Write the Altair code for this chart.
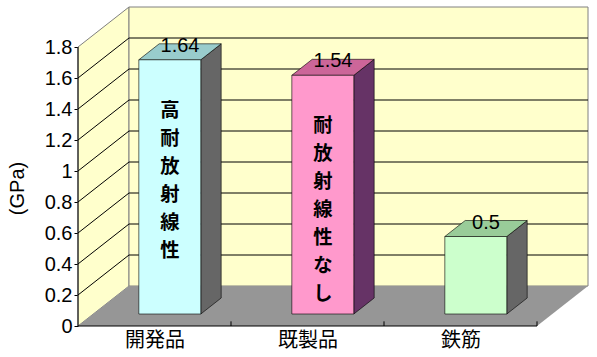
import json
import altair as alt
import pandas as pd

# ---------------- data ----------------
categories = ["開発品", "既製品", "鉄筋"]
values = [1.64, 1.54, 0.5]
bar_texts = ["高耐放射線性", "耐放射線性なし", ""]
y_ticks = [0, 0.2, 0.4, 0.6, 0.8, 1, 1.2, 1.4, 1.6, 1.8]

# ---------------- style ----------------
front_colors = ["#CCFFFF", "#FF99CC", "#CCFFCC"]
top_colors = ["#99CCCC", "#CC6699", "#99CC99"]
side_colors = ["#666666", "#663366", "#666666"]
WALL = "#FFFFCC"
FLOOR = "#969696"
BORDER = "#808080"

W, H = 510, 319
YMAX = 1.8
DX = 1 / 3          # depth of the 3-D box in x units
DY = 40 / 155       # depth of the 3-D box in y units
BAR_W = 0.405
F0, F1 = 0.3, 0.7   # bar depth, as fractions of the box depth
LINE_H = 28         # line spacing of the vertical in-bar text (px)
TEXT_DY = 51        # first in-bar character centre below the bar top (px)
N = len(categories)
PX_PER_Y = H / (YMAX + DY)

xs = alt.Scale(domain=[0, N + DX], nice=False, zero=False)
ys = alt.Scale(domain=[0, YMAX + DY], nice=False, zero=False)

label_expr = f"{json.dumps(categories, ensure_ascii=False)}[round(datum.value - 0.5)]"

X_AXIS = alt.Axis(values=[i + 0.5 for i in range(N)], labelExpr=label_expr,
                  ticks=False, domain=False, grid=False,
                  labelFont="Noto Sans CJK JP", labelFontSize=20,
                  labelColor="black", labelPadding=4)
Y_AXIS = alt.Axis(values=y_ticks, labelExpr="'' + datum.value",
                  domain=False, grid=False, tickSize=4, tickColor="black",
                  labelFont="Liberation Sans", labelFontSize=20,
                  labelColor="black", labelPadding=2,
                  titleFont="Liberation Sans",
                  titleFontSize=20, titleFontWeight="normal",
                  titleColor="black", titleAngle=270,
                  titleX=-61, titleY=181, titleAlign="center",
                  titleBaseline="middle")


def X(field):
    return alt.X(field, scale=xs, axis=X_AXIS, title=None)


def Y(field):
    return alt.Y(field, scale=ys, axis=Y_AXIS, title="(GPa)", stack=None)


# ---------------- frame ----------------
left_wall = pd.DataFrame({"x": [0, DX], "y": [YMAX, YMAX + DY], "y2": [0, DY]})
back_wall = pd.DataFrame({"x": [DX], "x2": [N + DX], "y": [DY], "y2": [YMAX + DY]})
floor = pd.DataFrame({"y": [0, DY], "x": [0, DX], "x2": [N, N + DX]})
inner = [v for v in y_ticks if 0 < v < YMAX]
grid_back = pd.DataFrame({"x": DX, "x2": N + DX, "y": [v + DY for v in inner]})
grid_left = pd.DataFrame({"x": 0.0, "x2": DX, "y": inner, "y2": [v + DY for v in inner]})
cat_ticks = pd.DataFrame({"x": list(range(1, N + 1)), "y": 0.0, "y2": 0.03})

base = alt.Chart(left_wall).mark_area(
    fill=WALL, stroke=BORDER, strokeWidth=1, orient="vertical"
).encode(x=X("x:Q"), y=Y("y:Q"), y2="y2:Q")

back = alt.Chart(back_wall).mark_rect(fill=WALL, stroke=BORDER, strokeWidth=1).encode(
    x=X("x:Q"), x2="x2:Q", y=Y("y:Q"), y2="y2:Q")

floor_l = alt.Chart(floor).mark_area(fill=FLOOR, orient="horizontal").encode(
    y=Y("y:Q"), x=X("x:Q"), x2="x2:Q")

gb = alt.Chart(grid_back).mark_rule(color="black", strokeWidth=1).encode(
    x=X("x:Q"), x2="x2:Q", y=Y("y:Q"))

gl = alt.Chart(grid_left).mark_rule(color="black", strokeWidth=1).encode(
    x=X("x:Q"), x2="x2:Q", y=Y("y:Q"), y2="y2:Q")

y_axis_line = alt.Chart(pd.DataFrame({"x": [0.0], "y": [0.0], "y2": [YMAX]})).mark_rule(
    color="black", strokeWidth=1).encode(x=X("x:Q"), y=Y("y:Q"), y2="y2:Q")

x_axis_line = alt.Chart(pd.DataFrame({"x": [0.0], "x2": [float(N)], "y": [0.0]})).mark_rule(
    color="black", strokeWidth=1).encode(x=X("x:Q"), x2="x2:Q", y=Y("y:Q"))

xt = alt.Chart(cat_ticks).mark_rule(color="black", strokeWidth=1).encode(
    x=X("x:Q"), y=Y("y:Q"), y2="y2:Q")

# ---------------- bars ----------------
front_rows, top_rows, side_rows, lab_rows, txt_rows = [], [], [], [], []
for i, (c, v) in enumerate(zip(categories, values)):
    xc = i + 0.5
    xl = xc - BAR_W / 2
    xr = xc + BAR_W / 2
    front_rows.append({"cat": c, "x": xl + F0 * DX, "x2": xr + F0 * DX,
                       "y": F0 * DY, "y2": v + F0 * DY, "color": front_colors[i]})
    top_rows.append({"cat": c, "y": v + F0 * DY, "x": xl + F0 * DX, "x2": xr + F0 * DX,
                     "color": top_colors[i]})
    top_rows.append({"cat": c, "y": v + F1 * DY, "x": xl + F1 * DX, "x2": xr + F1 * DX,
                     "color": top_colors[i]})
    side_rows.append({"cat": c, "x": xr + F0 * DX, "y": v + F0 * DY, "y2": F0 * DY,
                      "color": side_colors[i]})
    side_rows.append({"cat": c, "x": xr + F1 * DX, "y": v + F1 * DY, "y2": F1 * DY,
                      "color": side_colors[i]})
    lab_rows.append({"x": xc + 0.5 * DX, "y": v + 0.5 * DY, "t": f"{v:g}"})
    for k, ch in enumerate(bar_texts[i]):
        txt_rows.append({"x": xc + F0 * DX,
                         "y": v + F0 * DY - (TEXT_DY + k * LINE_H) / PX_PER_Y,
                         "t": ch})

side = alt.Chart(pd.DataFrame(side_rows)).mark_area(
    orient="vertical", stroke="black", strokeWidth=0.6).encode(
    x=X("x:Q"), y=Y("y:Q"), y2="y2:Q",
    fill=alt.Fill("color:N", scale=None), detail="cat:N")

top = alt.Chart(pd.DataFrame(top_rows)).mark_area(
    orient="horizontal", stroke="black", strokeWidth=0.6).encode(
    y=Y("y:Q"), x=X("x:Q"), x2="x2:Q",
    fill=alt.Fill("color:N", scale=None), detail="cat:N")

front = alt.Chart(pd.DataFrame(front_rows)).mark_rect(
    stroke="black", strokeWidth=0.6).encode(
    x=X("x:Q"), x2="x2:Q", y=Y("y:Q"), y2="y2:Q",
    fill=alt.Fill("color:N", scale=None))

labels = alt.Chart(pd.DataFrame(lab_rows)).mark_text(
    font="Liberation Sans", fontSize=20, color="black",
    align="center", baseline="alphabetic").encode(
    x=X("x:Q"), y=Y("y:Q"), text="t:N")

inner_txt = alt.Chart(pd.DataFrame(txt_rows)).mark_text(
    font="Noto Sans CJK JP", fontSize=19.3, fontWeight="bold", color="black",
    align="center", baseline="middle").encode(
    x=X("x:Q"), y=Y("y:Q"), text="t:N")

chart = alt.layer(
    base, back, floor_l, gb, gl, y_axis_line, x_axis_line, xt,
    side, top, front, labels, inner_txt
).properties(
    width=W, height=H,
    autosize=alt.AutoSizeParams(type="none"),
    padding={"left": 78, "top": 7, "right": 9, "bottom": 31},
    background="white",
).configure_view(stroke=None)

chart.save("out.html", embed_options={"renderer": "svg", "actions": False})
